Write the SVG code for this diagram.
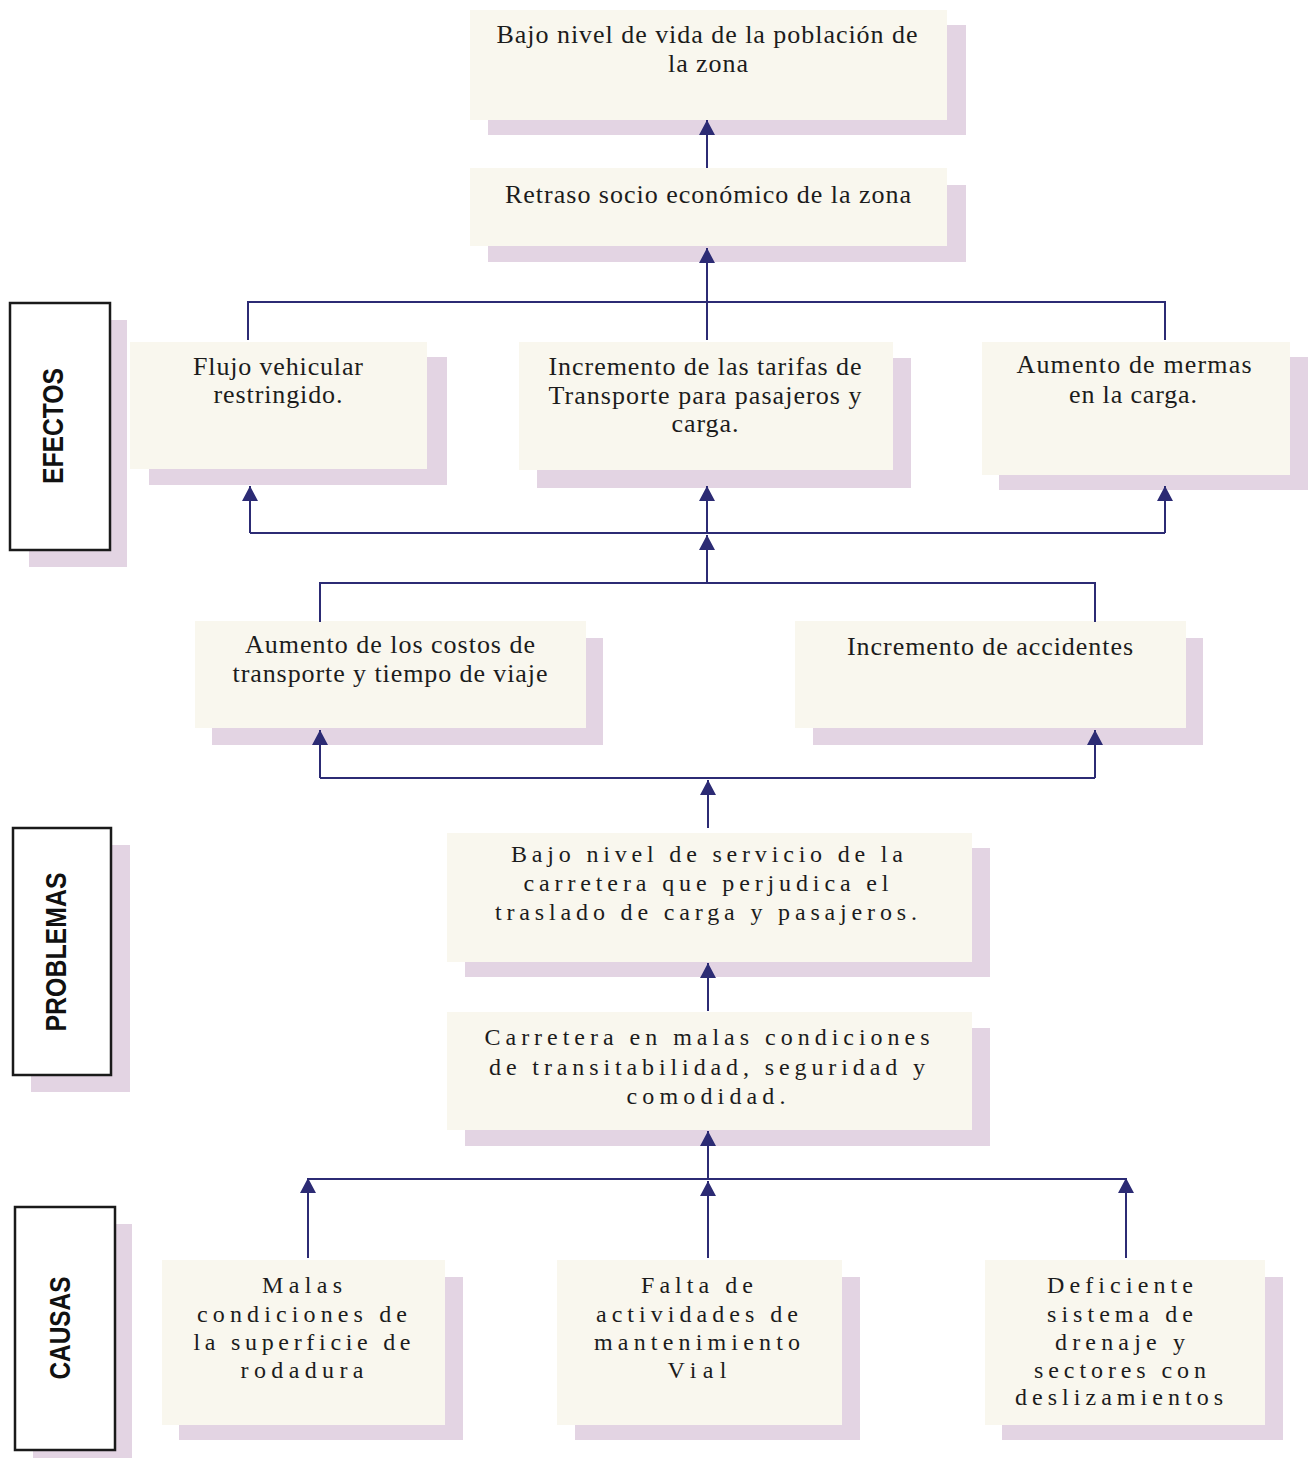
<svg xmlns="http://www.w3.org/2000/svg" width="1309" height="1458" viewBox="0 0 1309 1458">
<style>
.bg{fill:#ffffff}
.box{fill:#f9f7ee}
.sh{fill:#e3d4e3}
.lbl{fill:#ffffff;stroke:#1a1a1a;stroke-width:2.5}
.t{font-family:"Liberation Serif","Times New Roman",serif;font-size:26px;fill:#1c1c1c;text-anchor:middle}
.ts{font-family:"Liberation Serif","Times New Roman",serif;font-size:24px;fill:#1c1c1c;text-anchor:middle}
.lt{font-family:"Liberation Sans",Arial,sans-serif;font-size:30px;font-weight:bold;fill:#111;text-anchor:middle}
.c{fill:none;stroke:#2c2b74;stroke-width:2}
.a{fill:none;stroke:#2c2b74;stroke-width:2;marker-end:url(#arr)}
</style>
<defs>
<marker id="arr" markerUnits="userSpaceOnUse" viewBox="0 0 15 16" refX="15" refY="8" markerWidth="15" markerHeight="16" orient="auto">
<path d="M0,0 L15,8 L0,16 z" fill="#2c2b74"/>
</marker>
</defs>
<rect class="bg" x="0" y="0" width="1309" height="1458"/>

<g id="lbl-efectos">
<rect class="sh" x="29" y="320" width="98" height="247"/>
<rect class="lbl" x="10" y="303" width="100" height="247"/>
<text class="lt" transform="translate(63,426) rotate(-90)" textLength="116" lengthAdjust="spacingAndGlyphs">EFECTOS</text>
</g>
<g id="lbl-problemas">
<rect class="sh" x="31" y="845" width="99" height="247"/>
<rect class="lbl" x="13" y="828" width="98" height="247"/>
<text class="lt" transform="translate(66,952) rotate(-90)" textLength="159" lengthAdjust="spacingAndGlyphs">PROBLEMAS</text>
</g>
<g id="lbl-causas">
<rect class="sh" x="33" y="1224" width="99" height="240"/>
<rect class="lbl" x="15" y="1207" width="100" height="243"/>
<text class="lt" transform="translate(70,1328) rotate(-90)" textLength="103" lengthAdjust="spacingAndGlyphs">CAUSAS</text>
</g>

<g id="n-bajo-nivel-vida">
<rect class="sh" x="488" y="25" width="478" height="110"/>
<rect class="box" x="470" y="10" width="477" height="110"/>
<text class="t" x="707" y="43" textLength="421">Bajo nivel de vida de la población de</text>
<text class="t" x="708" y="72" textLength="80">la zona</text>
</g>
<g id="n-retraso">
<rect class="sh" x="488" y="185" width="478" height="77"/>
<rect class="box" x="470" y="168" width="477" height="78"/>
<text class="t" x="708" y="203" textLength="406">Retraso socio económico de la zona</text>
</g>

<g id="n-flujo">
<rect class="sh" x="149" y="357" width="298" height="128"/>
<rect class="box" x="130" y="342" width="297" height="127"/>
<text class="t" x="278" y="375" textLength="170">Flujo vehicular</text>
<text class="t" x="278" y="403" textLength="129">restringido.</text>
</g>
<g id="n-tarifas">
<rect class="sh" x="537" y="358" width="374" height="130"/>
<rect class="box" x="519" y="342" width="374" height="128"/>
<text class="t" x="705" y="375" textLength="313">Incremento de las tarifas de</text>
<text class="t" x="705" y="404" textLength="313">Transporte para pasajeros y</text>
<text class="t" x="705" y="432" textLength="67">carga.</text>
</g>
<g id="n-mermas">
<rect class="sh" x="999" y="357" width="309" height="133"/>
<rect class="box" x="982" y="342" width="308" height="133"/>
<text class="t" x="1134" y="373" textLength="235">Aumento de mermas</text>
<text class="t" x="1133" y="403" textLength="128">en la carga.</text>
</g>

<g id="n-costos">
<rect class="sh" x="212" y="638" width="391" height="107"/>
<rect class="box" x="195" y="621" width="391" height="107"/>
<text class="t" x="390" y="653" textLength="290">Aumento de los costos de</text>
<text class="t" x="390" y="682" textLength="315">transporte y tiempo de viaje</text>
</g>
<g id="n-accidentes">
<rect class="sh" x="813" y="638" width="390" height="107"/>
<rect class="box" x="795" y="621" width="391" height="107"/>
<text class="t" x="990" y="655" textLength="286">Incremento de accidentes</text>
</g>

<g id="n-servicio">
<rect class="sh" x="465" y="848" width="525" height="129"/>
<rect class="box" x="447" y="833" width="525" height="129"/>
<text class="ts" x="707" y="862" textLength="392">Bajo nivel de servicio de la</text>
<text class="ts" x="706" y="891" textLength="365">carretera que perjudica el</text>
<text class="ts" x="706" y="920" textLength="422">traslado de carga y pasajeros.</text>
</g>
<g id="n-carretera">
<rect class="sh" x="465" y="1028" width="525" height="118"/>
<rect class="box" x="447" y="1012" width="525" height="118"/>
<text class="ts" x="707" y="1045" textLength="445">Carretera en malas condiciones</text>
<text class="ts" x="707" y="1075" textLength="436">de transitabilidad, seguridad y</text>
<text class="ts" x="706" y="1104" textLength="159">comodidad.</text>
</g>

<g id="n-malas">
<rect class="sh" x="179" y="1277" width="284" height="163"/>
<rect class="box" x="162" y="1260" width="283" height="165"/>
<text class="ts" x="302" y="1293" textLength="80">Malas</text>
<text class="ts" x="302" y="1322" textLength="210">condiciones de</text>
<text class="ts" x="302" y="1350" textLength="217">la superficie de</text>
<text class="ts" x="302" y="1378" textLength="123">rodadura</text>
</g>
<g id="n-falta">
<rect class="sh" x="575" y="1277" width="285" height="163"/>
<rect class="box" x="557" y="1260" width="285" height="165"/>
<text class="ts" x="697" y="1293" textLength="112">Falta de</text>
<text class="ts" x="697" y="1322" textLength="202">actividades de</text>
<text class="ts" x="697" y="1350" textLength="206">mantenimiento</text>
<text class="ts" x="697" y="1378" textLength="59">Vial</text>
</g>
<g id="n-deficiente">
<rect class="sh" x="1002" y="1277" width="281" height="163"/>
<rect class="box" x="985" y="1260" width="280" height="165"/>
<text class="ts" x="1120" y="1293" textLength="146">Deficiente</text>
<text class="ts" x="1120" y="1322" textLength="146">sistema de</text>
<text class="ts" x="1120" y="1350" textLength="130">drenaje y</text>
<text class="ts" x="1120" y="1378" textLength="172">sectores con</text>
<text class="ts" x="1119" y="1405" textLength="208">deslizamientos</text>
</g>

<g id="connectors">
<path class="a" d="M707,168 L707,120"/>
<path class="a" d="M707,340 L707,248"/>
<path class="c" d="M248,340 L248,302 L1165,302 L1165,340"/>
<path class="c" d="M250,533 L1165,533"/>
<path class="a" d="M250,533 L250,486"/>
<path class="a" d="M707,533 L707,486"/>
<path class="a" d="M1165,533 L1165,486"/>
<path class="a" d="M707,583 L707,535"/>
<path class="c" d="M320,622 L320,583 L1095,583 L1095,622"/>
<path class="c" d="M320,778 L1095,778"/>
<path class="a" d="M320,778 L320,730"/>
<path class="a" d="M1095,778 L1095,730"/>
<path class="a" d="M708,828 L708,780"/>
<path class="a" d="M708,1011 L708,963"/>
<path class="a" d="M708,1179 L708,1131"/>
<path class="c" d="M308,1179 L1126,1179"/>
<path class="a" d="M308,1258 L308,1178"/>
<path class="a" d="M708,1258 L708,1181"/>
<path class="a" d="M1126,1258 L1126,1178"/>
</g>
</svg>
